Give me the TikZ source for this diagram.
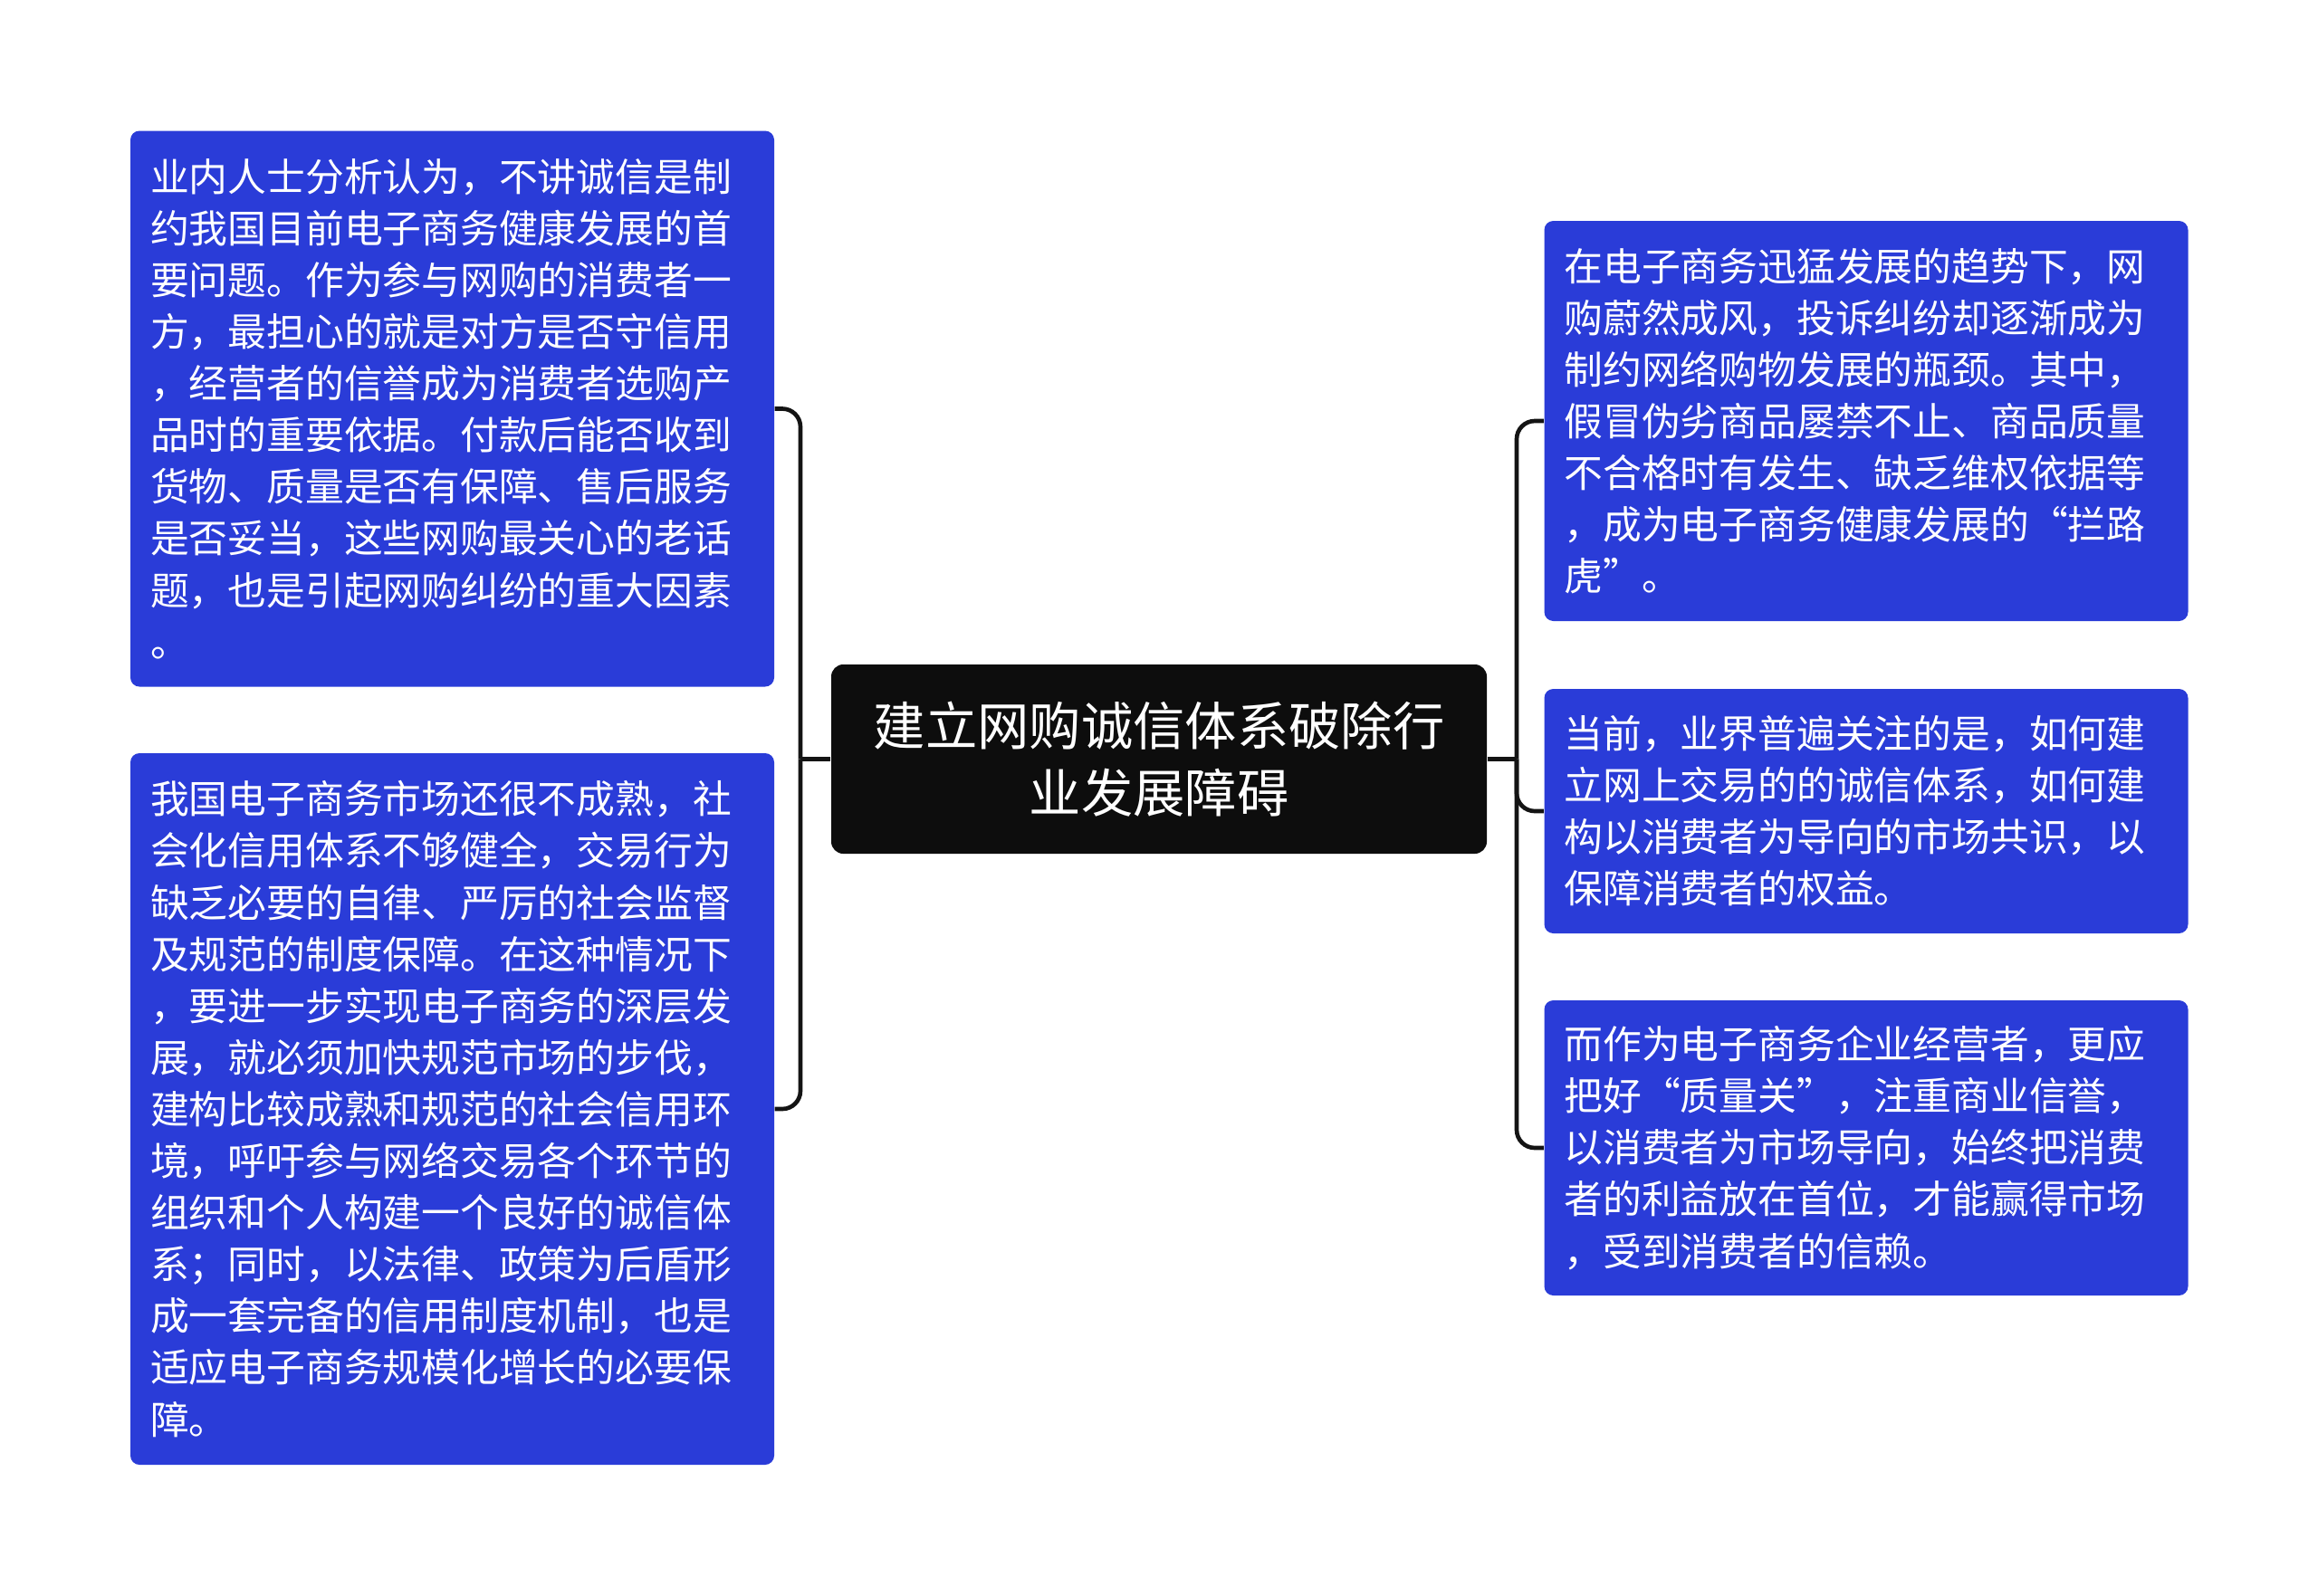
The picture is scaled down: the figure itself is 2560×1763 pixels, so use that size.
\documentclass[tikz,border=0pt]{standalone}
\usepackage{fontspec}
\setmainfont{Noto Sans CJK SC}[CharacterWidth=Full]
\definecolor{boxblue}{RGB}{42,60,216}
\definecolor{centerblack}{RGB}{13,13,13}
\definecolor{linec}{RGB}{20,20,20}
\begin{document}
\begin{tikzpicture}[x=0.3pt,y=-0.3pt,
  textbox/.style={fill=boxblue, rounded corners=3pt, inner sep=0pt, text=white, align=left,
    text width=200.1pt, minimum width=213.3pt, font=\fontsize{12.84pt}{17.13pt}\selectfont},
  centerbox/.style={fill=centerblack, rounded corners=4pt, inner sep=0pt, text=white, align=center,
    text width=205pt, minimum width=217.2pt, minimum height=62.7pt, font=\fontsize{17.2pt}{22.2pt}\selectfont},
  link/.style={draw=linec, line width=1.4pt, rounded corners=6pt}]
\useasboundingbox (0,0) rectangle (2560,1763);

\node[centerbox] (c) at (1280,838.5) {建立网购诚信体系破除行\\业发展障碍};

\node[textbox, minimum height=184.2pt] (l1) at (499.5,451.5) {业内人士分析认为，不讲诚信是制\\约我国目前电子商务健康发展的首\\要问题。作为参与网购的消费者一\\方，最担心的就是对方是否守信用\\，经营者的信誉成为消费者选购产\\品时的重要依据。付款后能否收到\\货物、质量是否有保障、售后服务\\是否妥当，这些网购最关心的老话\\题，也是引起网购纠纷的重大因素\\。};

\node[textbox, minimum height=235.8pt] (l2) at (499.5,1225) {我国电子商务市场还很不成熟，社\\会化信用体系不够健全，交易行为\\缺乏必要的自律、严厉的社会监督\\及规范的制度保障。在这种情况下\\，要进一步实现电子商务的深层发\\展，就必须加快规范市场的步伐，\\建构比较成熟和规范的社会信用环\\境，呼吁参与网络交易各个环节的\\组织和个人构建一个良好的诚信体\\系；同时，以法律、政策为后盾形\\成一套完备的信用制度机制，也是\\适应电子商务规模化增长的必要保\\障。};

\node[textbox, minimum height=132.6pt] (r1) at (2061,465) {在电子商务迅猛发展的趋势下，网\\购蔚然成风，投诉纠纷却逐渐成为\\制约网络购物发展的瓶颈。其中，\\假冒伪劣商品屡禁不止、商品质量\\不合格时有发生、缺乏维权依据等\\，成为电子商务健康发展的“拦路\\虎”。};

\node[textbox, minimum height=81pt] (r2) at (2061,896) {当前，业界普遍关注的是，如何建\\立网上交易的的诚信体系，如何建\\构以消费者为导向的市场共识，以\\保障消费者的权益。};

\node[textbox, minimum height=97.8pt] (r3) at (2061,1268) {而作为电子商务企业经营者，更应\\把好“质量关”，注重商业信誉，\\以消费者为市场导向，始终把消费\\者的利益放在首位，才能赢得市场\\，受到消费者的信赖。};

\coordinate (jl) at (884,838.5);
\coordinate (jr) at (1675,838.5);

\draw[link] (c.west) -- (jl);
\draw[link] (jl) |- (l1.east);
\draw[link] (jl) |- (l2.east);
\draw[link] (c.east) -- (jr);
\draw[link] (jr) |- (r1.west);
\draw[link] (jr) |- (r2.west);
\draw[link] (jr) |- (r3.west);
\end{tikzpicture}
\end{document}
